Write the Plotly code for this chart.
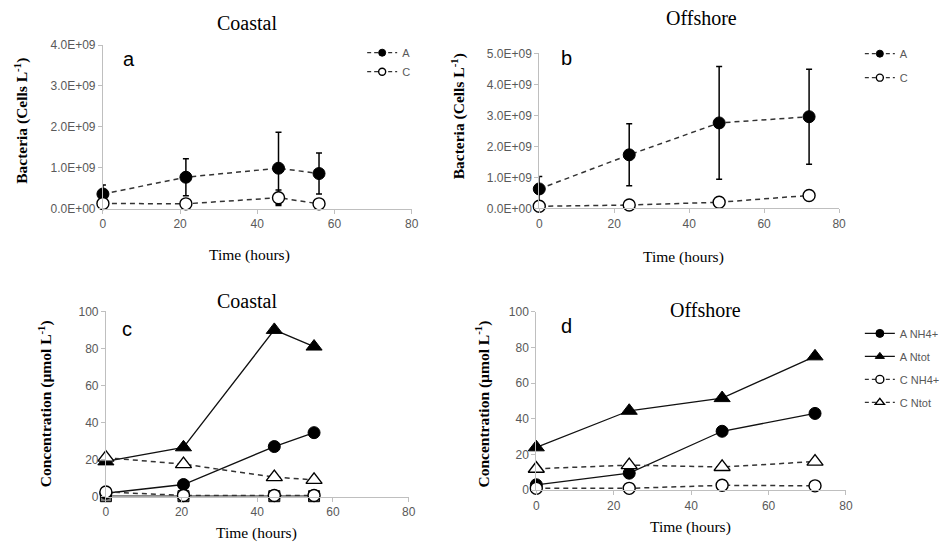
import plotly.graph_objects as go

W, H = 946, 552

# ---------------- data ----------------
# Panel a (Coastal bacteria)
a_time = [0, 21.5, 45.5, 56]
a_A = [0.36e9, 0.77e9, 0.99e9, 0.86e9]
a_A_err = [0.22e9, 0.45e9, 0.88e9, 0.50e9]
a_C = [0.13e9, 0.12e9, 0.27e9, 0.12e9]
a_C_err = [0.0, 0.0, 0.19e9, 0.0]

# Panel b (Offshore bacteria)
b_time = [0, 24, 48, 72]
b_A = [0.63e9, 1.73e9, 2.76e9, 2.96e9]
b_A_err = [0.40e9, 1.00e9, 1.82e9, 1.53e9]
b_C = [0.07e9, 0.11e9, 0.20e9, 0.42e9]

bact_a_ticks = [0, 1e9, 2e9, 3e9, 4e9]
bact_a_labels = ["0.0E+00", "1.0E+09", "2.0E+09", "3.0E+09", "4.0E+09"]
bact_b_ticks = [0, 1e9, 2e9, 3e9, 4e9, 5e9]
bact_b_labels = ["0.0E+00", "1.0E+09", "2.0E+09", "3.0E+09", "4.0E+09", "5.0E+09"]

# Panel c (Coastal nitrogen)
c_time = [0, 20.5, 44.5, 55]
c_A_NH4 = [1.8, 6.5, 27, 34.5]
c_A_Ntot = [19, 26.6, 90, 81]
c_C_NH4 = [2.5, 0.6, 0.6, 0.6]
c_C_Ntot = [21, 17.5, 10.5, 9]
c_other = [0.2, 0.2, 0.2, 0.2]

# Panel d (Offshore nitrogen)
d_time = [0, 24, 48, 72]
d_A_NH4 = [3, 9.5, 33, 43]
d_A_Ntot = [24, 44.5, 51.6, 75]
d_C_NH4 = [1, 1, 2.7, 2.4]
d_C_Ntot = [12, 14, 13, 16]

conc_ticks = [0, 20, 40, 60, 80, 100]
time_ticks = [0, 20, 40, 60, 80]

# ---------------- helpers ----------------
def xd(a, b):
    return [a / W, b / W]

def yd(top, bottom):
    return [1 - bottom / H, 1 - top / H]

DASH = "5px,4px"
DLINE = dict(color="#333333", width=1.5, dash=DASH)
SLINE = dict(color="#111111", width=1.3)
LDLINE = dict(color="#333333", width=1.2, dash="4px,3px")
LSLINE = dict(color="#111111", width=1.2)

def mk(symbol, filled, size):
    return dict(symbol=symbol, size=size, color="black" if filled else "white",
                line=dict(color="black", width=1 if filled else 1.4))

ERR = lambda arr: dict(type="data", array=arr, visible=True, color="black", thickness=1.5, width=3)

fig = go.Figure()

def data_trace(x, y, line, marker, ax, err=None):
    kw = dict(x=x, y=y, mode="lines+markers", line=line, marker=marker,
              xaxis="x" + ax, yaxis="y" + ax, showlegend=False, cliponaxis=False, hoverinfo="x+y")
    if err is not None:
        kw["error_y"] = ERR(err)
    fig.add_trace(go.Scatter(**kw))

def legend_trace(name, line, marker, ax, legend):
    fig.add_trace(go.Scatter(x=[None], y=[None], name=name, mode="lines+markers", line=line, marker=marker,
                             xaxis="x" + ax, yaxis="y" + ax, legend=legend, legendgroup=legend + name,
                             showlegend=True))

# Panel a
data_trace(a_time, a_A, DLINE, mk("circle", True, 12), "", a_A_err)
data_trace(a_time, a_C, DLINE, mk("circle", False, 12), "", a_C_err)
legend_trace("A", LDLINE, mk("circle", True, 7), "", "legend")
legend_trace("C", LDLINE, mk("circle", False, 7), "", "legend")
# Panel b
data_trace(b_time, b_A, DLINE, mk("circle", True, 12), "2", b_A_err)
data_trace(b_time, b_C, DLINE, mk("circle", False, 12), "2")
legend_trace("A", LDLINE, mk("circle", True, 7), "2", "legend2")
legend_trace("C", LDLINE, mk("circle", False, 7), "2", "legend2")
# Panel c
data_trace(c_time, c_other, SLINE, dict(symbol="square", size=11, color="#7f7f7f",
                                        line=dict(color="black", width=1)), "3")
data_trace(c_time, c_A_NH4, SLINE, mk("circle", True, 12), "3")
data_trace(c_time, c_A_Ntot, SLINE, mk("triangle-up", True, 14), "3")
data_trace(c_time, c_C_NH4, DLINE, mk("circle", False, 12), "3")
data_trace(c_time, c_C_Ntot, DLINE, mk("triangle-up", False, 14), "3")
# Panel d
data_trace(d_time, d_A_NH4, SLINE, mk("circle", True, 12), "4")
data_trace(d_time, d_A_Ntot, SLINE, mk("triangle-up", True, 14), "4")
data_trace(d_time, d_C_NH4, DLINE, mk("circle", False, 12), "4")
data_trace(d_time, d_C_Ntot, DLINE, mk("triangle-up", False, 14), "4")
legend_trace("A NH4+", LSLINE, mk("circle", True, 8), "4", "legend3")
legend_trace("A Ntot", LSLINE, mk("triangle-up", True, 8), "4", "legend3")
legend_trace("C NH4+", LDLINE, mk("circle", False, 8), "4", "legend3")
legend_trace("C Ntot", LDLINE, mk("triangle-up", False, 8), "4", "legend3")

TICKFONT = dict(family="Liberation Sans, Arial, sans-serif", size=12, color="#595959")
AX = dict(showline=True, linecolor="#bfbfbf", linewidth=1, ticks="outside", tickcolor="#bfbfbf",
          ticklen=4, showgrid=False, zeroline=False, tickfont=TICKFONT, fixedrange=True)

def xax(dom, anchor):
    return dict(AX, domain=dom, anchor=anchor, range=[0, 80], tickvals=time_ticks)

def yax(dom, anchor, rng, tv, tt=None):
    d = dict(AX, domain=dom, anchor=anchor, range=rng, tickvals=tv)
    if tt is not None:
        d["ticktext"] = tt
    return d

def LEG(x, y, gap):
    return dict(font=dict(family="Liberation Sans, Arial, sans-serif", size=11, color="#595959"),
                bgcolor="rgba(0,0,0,0)", xanchor="left", yanchor="top", tracegroupgap=gap,
                x=x / W, y=1 - y / H)

fig.update_layout(
    width=W, height=H, margin=dict(l=0, r=0, t=0, b=0),
    paper_bgcolor="white", plot_bgcolor="white",
    xaxis=xax(xd(101, 413), "y"),
    yaxis=yax(yd(39, 207), "x", [0, 4e9], bact_a_ticks, bact_a_labels),
    xaxis2=xax(xd(542, 845), "y2"),
    yaxis2=yax(yd(47.7, 206.7), "x2", [0, 5e9], bact_b_ticks, bact_b_labels),
    xaxis3=xax(xd(104, 410), "y3"),
    yaxis3=yax(yd(312.3, 502.3), "x3", [0, 100], conc_ticks),
    xaxis4=xax(xd(539, 852), "y4"),
    yaxis4=yax(yd(312.7, 495.7), "x4", [0, 100], conc_ticks),
    legend=LEG(363, 32, 0),
    legend2=LEG(866, 33, 5),
    legend3=LEG(866, 320, 4),
    showlegend=True,
)

SERIF = "Liberation Serif, Times New Roman, serif"
SANS = "Liberation Sans, Arial, sans-serif"

def ann(text, px, py, size, family=SERIF, angle=0, color="black"):
    fig.add_annotation(text=text, x=px / W, y=1 - py / H, xref="paper", yref="paper",
                       xanchor="center", yanchor="middle", showarrow=False, textangle=angle,
                       font=dict(family=family, size=size, color=color))

# titles
ann("Coastal", 247, 16, 20)
ann("Offshore", 706, 11, 20)
ann("Coastal", 247, 302, 20)
ann("Offshore", 710, 311, 20)
# panel letters
ann("a", 127, 53, 20, SANS)
ann("b", 570, 52, 20, SANS)
ann("c", 125, 330, 20, SANS)
ann("d", 570, 327, 20, SANS)
# x titles
ann("Time (hours)", 249, 254, 15.5)
ann("Time (hours)", 688, 257, 15.5)
ann("Time (hours)", 256, 540, 15.5)
ann("Time (hours)", 695, 534, 15.5)
# y titles
ann("<b>Bacteria (Cells L<sup>-1</sup>)</b>", 18, 117, 15.5, angle=-90)
ann("<b>Bacteria (Cells L<sup>-1</sup>)</b>", 460, 112, 15.5, angle=-90)
ann("<b>Concentration (µmol L<sup>-1</sup>)</b>", 43, 407, 15.5, angle=-90)
ann("<b>Concentration (µmol L<sup>-1</sup>)</b>", 485, 407, 15.5, angle=-90)

fig.write_html("out.html")
